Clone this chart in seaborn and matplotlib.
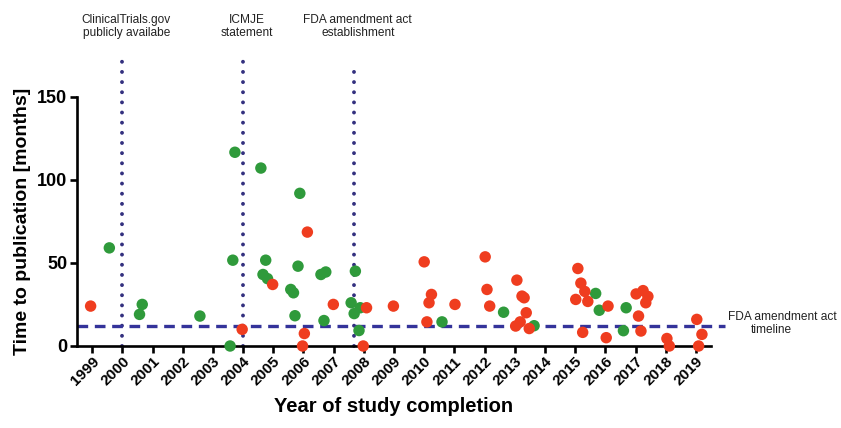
import matplotlib
matplotlib.use("Agg")
import matplotlib.pyplot as plt
import numpy as np
import pandas as pd
import seaborn as sns

# Completion year (fractional) and months to publication, per trial
green_year = [1999.57, 2000.57, 2000.66, 2002.57, 2003.73, 2003.66, 2003.57,
              2004.59, 2004.75, 2004.66, 2004.81, 2005.58, 2005.67, 2005.88,
              2005.82, 2005.72, 2006.58, 2006.74, 2006.68, 2007.72, 2007.58,
              2007.68, 2007.88, 2007.84, 2010.59, 2012.63, 2013.64, 2015.68,
              2015.80, 2016.69, 2016.60]
green_months = [59, 19, 25, 18, 116.5, 51.6, 0,
                107, 51.6, 43, 40.5, 34, 32, 91.8,
                48, 18.2, 43, 44.5, 15.3, 45, 26,
                19.5, 23, 9.3, 14.5, 20.3, 12.2, 31.6,
                21.5, 23, 9.2]

red_year = [1998.95, 2003.97, 2004.98, 2005.97, 2006.03, 2006.13, 2006.99,
            2007.98, 2008.09, 2008.98, 2010.00, 2010.24, 2010.16, 2010.09,
            2011.02, 2012.02, 2012.08, 2012.17, 2013.07, 2013.24, 2013.31,
            2013.38, 2013.03, 2013.18, 2013.48, 2015.09, 2015.19, 2015.32,
            2015.02, 2015.42, 2016.09, 2015.25, 2016.03, 2017.02, 2017.25,
            2017.41, 2017.34, 2017.10, 2017.18, 2018.04, 2018.12, 2019.03,
            2019.20, 2019.09]
red_months = [24, 10, 37, 0, 7.5, 68.5, 25,
              0, 23, 24, 50.6, 31, 26, 14.5,
              25, 53.6, 34, 24, 39.6, 30, 29,
              20, 12, 14.5, 10.5, 46.6, 37.8, 32.8,
              28, 26.8, 24, 8.2, 5, 31.3, 33.3,
              29.8, 26, 18, 9, 4.5, 0, 16,
              7, 0]

year_ticks = list(range(1999, 2020))
month_ticks = [0, 50, 100, 150]

milestone_years = [2000, 2004, 2007.67]
milestone_tops = [177, 177, 169]
milestone_labels = ["ClinicalTrials.gov\npublicly availabe",
                    "ICMJE\nstatement",
                    "FDA amendment act\nestablishment"]
fda_timeline_months = 12

df = pd.DataFrame({
    "year": green_year + red_year,
    "months": green_months + red_months,
    "group": ["green"] * len(green_year) + ["red"] * len(red_year),
})

sns.set_theme(style="white")
plt.rcParams["font.family"] = ["Liberation Sans", "DejaVu Sans"]

fig = plt.figure(figsize=(8.41, 4.28), dpi=100)
ax = fig.add_axes([0.0916, 0.1916, 0.7538, 0.6916])

navy = "#33307f"
dash_blue = "#34339a"

# milestone markers (dotted verticals)
for xv, top in zip(milestone_years, milestone_tops):
    ax.plot([xv, xv], [0, top], color=navy, lw=2.8,
            linestyle=(0, (0.01, 2.6)), dash_capstyle="round",
            clip_on=False, zorder=1)

# 12-month reporting requirement
ax.plot([1998.5, 2019.96], [fda_timeline_months, fda_timeline_months],
        color=dash_blue, lw=2.4, linestyle=(0, (3.2, 2.0)),
        clip_on=False, zorder=1)

sns.scatterplot(data=df, x="year", y="months", hue="group",
                palette={"green": "#2f9a3b", "red": "#ef3d1f"},
                s=68, linewidth=0, legend=False, clip_on=False,
                ax=ax, zorder=3)

ax.set_xlim(1998.5, 2019.5)
ax.set_ylim(0, 178)
ax.set_xticks(year_ticks)
ax.set_xticklabels([str(y) for y in year_ticks], rotation=45, ha="right",
                   rotation_mode="anchor", fontsize=11, fontweight="bold")
ax.set_yticks(month_ticks)
ax.set_yticklabels([str(m) for m in month_ticks], fontsize=13,
                   fontweight="bold")

for side in ["top", "right"]:
    ax.spines[side].set_visible(False)
for side in ["left", "bottom"]:
    ax.spines[side].set_linewidth(1.9)
    ax.spines[side].set_color("black")
ax.spines["left"].set_bounds(0, 150)
ax.tick_params(axis="both", which="both", direction="out", length=5,
               width=1.9, color="black", labelcolor="black", pad=2,
               bottom=True, left=True)
ax.tick_params(axis="x", pad=1)

ax.set_xlabel("Year of study completion", fontsize=14.5, fontweight="bold",
              color="black", labelpad=6)
ax.set_ylabel("Time to publication [months]", fontsize=14,
              fontweight="bold", color="black")
ax.yaxis.set_label_coords(-0.073, 0.422)

# milestone captions
for xv, label in zip(milestone_years, milestone_labels):
    ax.text(xv + 0.13, 192, label, ha="center", va="center",
            fontsize=8.6, color="#222222", linespacing=1.1, clip_on=False)

ax.text(2020.06, 17.6, "FDA amendment act", ha="left", va="center",
        fontsize=8.6, color="#222222", clip_on=False)
ax.text(2021.49, 9.6, "timeline", ha="center", va="center",
        fontsize=8.6, color="#222222", clip_on=False)

fig.savefig("out.png", dpi=100, facecolor="white")
